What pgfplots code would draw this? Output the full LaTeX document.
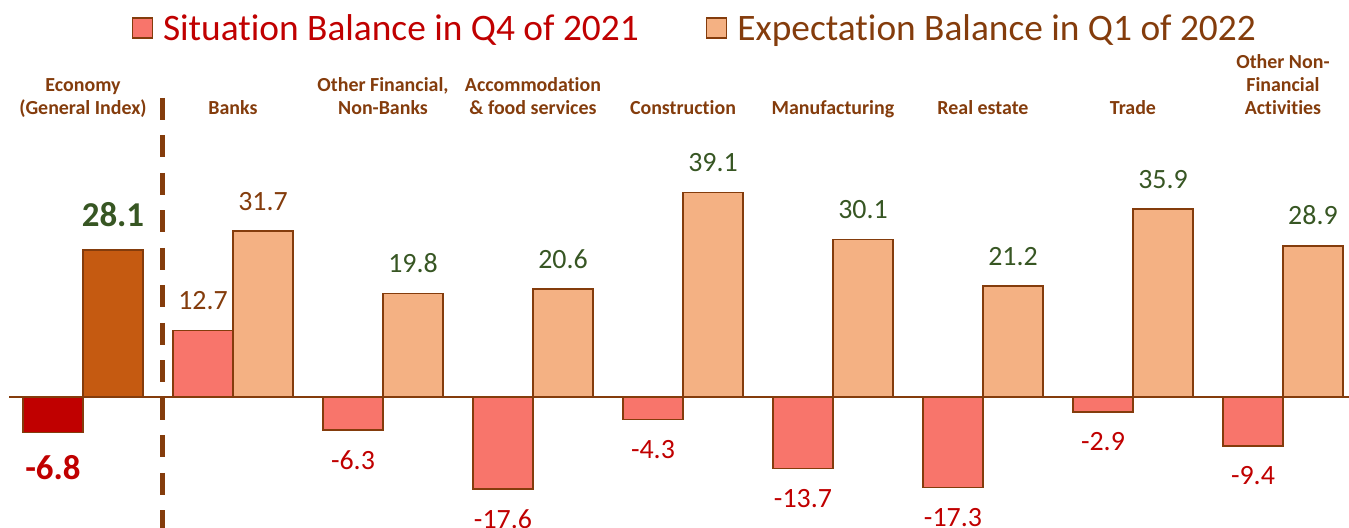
\documentclass[border=0pt]{standalone}
\usepackage{fontspec}
\setmainfont{Carlito}[Ligatures={NoCommon}]
\usepackage{pgfplots}
\pgfplotsset{compat=1.18}
\definecolor{edge}{HTML}{843C0C}
\definecolor{sitfill}{RGB}{248,117,107}
\definecolor{expfill}{HTML}{F4B183}
\definecolor{ecoS}{HTML}{C00000}
\definecolor{ecoE}{HTML}{C55A11}
\definecolor{redT}{HTML}{C00000}
\definecolor{greenT}{HTML}{375623}
\pgfplotsset{
  sqlegend/.style={legend image code/.code={\draw[##1,line width=1.5bp,draw=edge] (0bp,-10bp) rectangle (20bp,10bp); \path (28bp,0bp);}},
  mybar/.style={ybar, bar width=60bp, draw=edge, line width=1.5bp,
    nodes near coords={\pgfmathprintnumber[fixed,fixed zerofill,precision=1]{\pgfplotspointmeta}},
    nodes near coords align={vertical}},
  L/.style={bar shift=-30bp, every node near coord/.append style={xshift=-30bp}},
  R/.style={bar shift=30bp, every node near coord/.append style={xshift=30bp}},
  vallab/.style={every node near coord/.append style={font=\fontsize{28}{32}\selectfont, text=#1, inner ysep=20bp, inner xsep=0pt}},
  biglab/.style={every node near coord/.append style={font=\bfseries\fontsize{35}{40}\selectfont, text=#1, inner ysep=22bp, inner xsep=0pt}},
}
\tikzset{catlab/.style={anchor=south, align=center, inner sep=0pt, font=\bfseries\fontsize{20}{23}\selectfont, text=edge}}
\begin{document}
\begin{tikzpicture}
\useasboundingbox (0,0) rectangle (1349bp,528bp);
\begin{axis}[
  at={(0,0)}, anchor=south west,
  scale only axis, width=1349bp, height=528bp,
  xmin=-0.5533, xmax=8.44, ymin=-25.05, ymax=75.9,
  axis lines=none, clip=false,
  /pgf/number format/assume math mode=true,
  legend style={at={(0.515,0.947)}, anchor=center, draw=none, fill=none,
    font=\fontsize{37.5}{42}\selectfont, legend columns=2,
    /tikz/every even column/.append style={column sep=65bp}},
]
% Situation balance (sectors other than Banks)
\addplot[mybar, L, fill=sitfill, vallab=redT, sqlegend]
  coordinates {(2,-6.3) (3,-17.6) (4,-4.3) (5,-13.7) (6,-17.3) (7,-2.9) (8,-9.4)};
\addlegendentry{\textcolor{redT}{Situation Balance in Q4 of 2021}}
% Expectation balance (sectors other than Banks)
\addplot[mybar, R, fill=expfill, vallab=greenT, sqlegend]
  coordinates {(2,19.8) (3,20.6) (4,39.1) (5,30.1) (6,21.2) (7,35.9) (8,28.9)};
\addlegendentry{\textcolor{edge}{Expectation Balance in Q1 of 2022}}
% Banks
\addplot[mybar, L, fill=sitfill, vallab=edge, forget plot]
  coordinates {(1,12.7)};
\addplot[mybar, R, fill=expfill, vallab=edge, forget plot]
  coordinates {(1,31.7)};
% Economy (General Index)
\addplot[mybar, L, fill=ecoS, biglab=redT, forget plot]
  coordinates {(0,-6.8)};
\addplot[mybar, R, fill=ecoE, biglab=greenT, forget plot]
  coordinates {(0,28.1)};
% zero line and separator
\draw[edge, line width=2.5bp] (axis cs:-0.49,0) -- (axis cs:8.44,0);
\draw[edge, line width=5bp, dash pattern=on 22bp off 15.5bp] (axis cs:0.527,57.2) -- (axis cs:0.527,-25.05);
% category labels
\node[catlab] at (axis cs:0,52.7) {Economy\\(General Index)\strut};
\node[catlab] at (axis cs:1,52.7) {Banks\strut};
\node[catlab] at (axis cs:2,52.7) {Other Financial,\\Non-Banks\strut};
\node[catlab] at (axis cs:3,52.7) {Accommodation\\\& food services\strut};
\node[catlab] at (axis cs:4,52.7) {Construction\strut};
\node[catlab] at (axis cs:5,52.7) {Manufacturing\strut};
\node[catlab] at (axis cs:6,52.7) {Real estate\strut};
\node[catlab] at (axis cs:7,52.7) {Trade\strut};
\node[catlab] at (axis cs:8,52.7) {Other Non-\\Financial\\Activities\strut};
\end{axis}
\end{tikzpicture}
\end{document}
